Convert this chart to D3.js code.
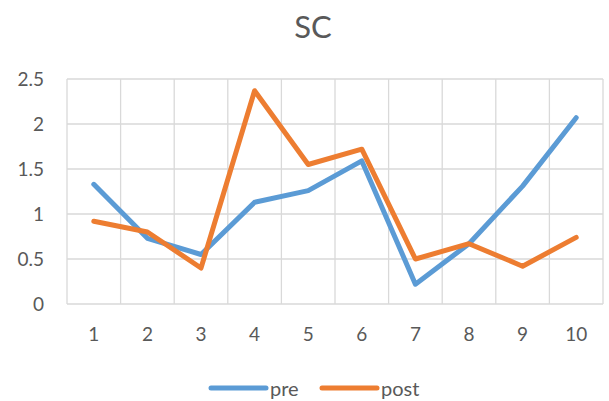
<!DOCTYPE html>
<html><head><meta charset="utf-8">
<script src="https://cdn.jsdelivr.net/npm/d3@7"></script>
<style>body{margin:0;background:#fff;}svg{display:block;font-family:Lato,"Open Sans",sans-serif;}</style>
</head><body>
<svg id="c" width="609" height="401"></svg>
<script>
const categories = ["1","2","3","4","5","6","7","8","9","10"];
const preValues  = [1.33, 0.73, 0.55, 1.13, 1.26, 1.59, 0.22, 0.67, 1.31, 2.07];
const postValues = [0.92, 0.80, 0.40, 2.37, 1.55, 1.72, 0.50, 0.67, 0.42, 0.74];
const yTicks = [0, 0.5, 1, 1.5, 2, 2.5];
const seriesNames = ["pre", "post"];
const colors = ["#5B9BD5", "#ED7D31"];

const svg = d3.select("#c");
const L = 67, R = 603, T = 79, B = 304;
const x = d3.scaleBand().domain(categories).range([L, R]);
const y = d3.scaleLinear().domain([0, 2.5]).range([B, T]);

// gridlines
svg.append("g").selectAll("line").data(yTicks).join("line")
  .attr("x1", L).attr("x2", R).attr("y1", d => y(d)).attr("y2", d => y(d))
  .attr("stroke", "#d9d9d9").attr("stroke-width", 1.3);
const bounds = categories.map(c => x(c)).concat([R]);
svg.append("g").selectAll("line").data(bounds).join("line")
  .attr("x1", d => d).attr("x2", d => d).attr("y1", T).attr("y2", B)
  .attr("stroke", "#d9d9d9").attr("stroke-width", 1.3);

// y axis labels
const yAxis = d3.axisLeft(y).tickValues(yTicks).tickSize(0).tickPadding(0).tickFormat(d3.format("~g"));
const ya = svg.append("g").attr("transform", `translate(${44},0)`).call(yAxis);
ya.select(".domain").remove();
ya.selectAll("text").attr("font-size", 19).attr("fill", "#595959").attr("font-family", "Lato,'Open Sans',sans-serif");

// x axis labels
const xAxis = d3.axisBottom(x).tickSize(0).tickPadding(0);
const xa = svg.append("g").attr("transform", `translate(0,${327})`).call(xAxis);
xa.select(".domain").remove();
xa.selectAll("text").attr("font-size", 19).attr("fill", "#595959").attr("font-family", "Lato,'Open Sans',sans-serif");

// lines
const line = d3.line().x((d, i) => x(categories[i]) + x.bandwidth() / 2).y(d => y(d));
[preValues, postValues].forEach((vals, k) => {
  svg.append("path").datum(vals).attr("d", line)
    .attr("fill", "none").attr("stroke", colors[k]).attr("stroke-width", 5)
    .attr("stroke-linejoin", "round").attr("stroke-linecap", "round");
});

// title
svg.append("text").attr("x", 313).attr("y", 38).attr("text-anchor", "middle")
  .attr("font-size", 31).attr("fill", "#595959").text("SC");

// legend
const legX = [211, 322];
seriesNames.forEach((n, k) => {
  svg.append("line").attr("x1", legX[k]).attr("x2", legX[k] + 55).attr("y1", 388).attr("y2", 388)
    .attr("stroke", colors[k]).attr("stroke-width", 5).attr("stroke-linecap", "round");
  svg.append("text").attr("x", legX[k] + 59).attr("y", 396).attr("font-size", 20)
    .attr("fill", "#595959").text(n);
});
</script>
</body></html>
